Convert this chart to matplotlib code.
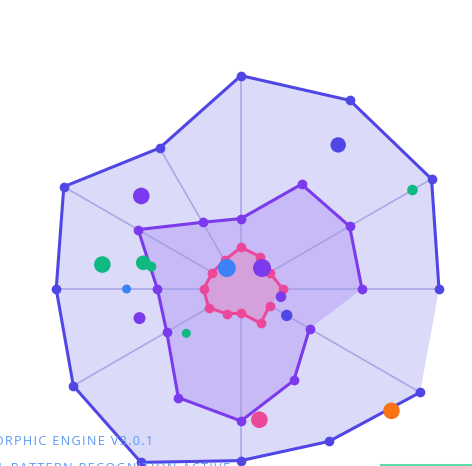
import matplotlib.pyplot as plt
import numpy as np

# radar axes, counter-clockwise from east
angles_deg = [0, 30, 60, 90, 120, 150, 180, 210, 240, 270, 300, 330]
outer_vals = [90, 100, 99, 97, 74, 93, 84, 88, 91, 78, 80, 94]
middle_vals = [55, 57, 55, 32, 35, 54, 38, 39, 57, 60, 48, 36]
inner_vals = [19, 15, 17, 19, 15, 15, 17, 17, 13, 11, 18, 15]
spoke_angles = [0, 30, 90, 120, 150, 180, 210, 270, 330]

# floating particles (angle in degrees, radius in chart units)
particle_theta = [56, 137, 30, 170, 165, 166, 180, 196, 219, 124, 45, 349, 330, 278, 321]
particle_r = [79, 62, 90, 64, 46, 42, 52, 48, 32, 11.5, 13.5, 18.5, 24, 60, 88]
particle_px = [7.7, 8.3, 5.3, 8.3, 7.3, 5, 4.5, 6, 4.5, 9, 9, 5.3, 5.7, 8.3, 8.3]
particle_kind = ['indigo', 'violet', 'green', 'green', 'green', 'green', 'blue', 'violet',
                 'green', 'blue', 'violet', 'violet', 'indigo', 'pink', 'orange']

title_lines = ['NEUROMORPHIC ENGINE V3.0.1', 'NEURAL PATTERN RECOGNITION ACTIVE']

colors = {'indigo': '#4f46e5', 'violet': '#7c3aed', 'green': '#10b981',
          'blue': '#3b82f6', 'pink': '#ec4899', 'orange': '#f97316'}

W, H = 472, 466
R_MAX = 120
PX_PER_UNIT = 2.2
cx, cy = 241, 289

fig = plt.figure(figsize=(W / 100, H / 100), dpi=100)
rad = R_MAX * PX_PER_UNIT
ax = fig.add_axes([(cx - rad) / W, (H - cy - rad) / H, 2 * rad / W, 2 * rad / H],
                  projection='polar')
ax.set_ylim(0, R_MAX)
ax.set_axis_off()

theta = np.deg2rad(angles_deg)
theta_closed = np.append(theta, theta[0])


def closed(v):
    return np.append(v, v[0])


# fills
ax.fill(theta_closed, closed(outer_vals), color=colors['indigo'], alpha=0.2, lw=0, zorder=1)
ax.fill(theta_closed, closed(middle_vals), color=colors['violet'], alpha=0.2, lw=0, zorder=2)

# spokes
for a in spoke_angles:
    i = angles_deg.index(a)
    ax.plot([np.deg2rad(a)] * 2, [0, outer_vals[i]], color='#9d9ce0', lw=1.2,
            alpha=0.8, zorder=3)

ax.fill(theta_closed, closed(inner_vals), color='#d4a1dd', lw=0, zorder=4)

# outlines (not closed) and vertex dots
for vals, c, z in [(outer_vals, colors['indigo'], 5), (middle_vals, colors['violet'], 6),
                   (inner_vals, colors['pink'], 7)]:
    ax.plot(theta, vals, color=c, lw=2.2, zorder=z, solid_joinstyle='round')
    ax.plot(theta, vals, 'o', color=c, ms=7, mew=0, zorder=z)

# particles
ax.scatter(np.deg2rad(particle_theta), particle_r,
           s=[(1.44 * p) ** 2 for p in particle_px],
           c=[colors[k] for k in particle_kind], linewidths=0, zorder=8)

# captions
font = ['Open Sans', 'DejaVu Sans']
fig.text(-69 / W, 21 / H, '\u200a'.join(title_lines[0]), family=font, fontsize=9.2,
         color='#5b9bf5', va='baseline', ha='left', zorder=0)
fig.text(-50 / W, -6 / H, '\u200a'.join(title_lines[1]), family=font, fontsize=9.2,
         color='#5b9bf5', va='baseline', ha='left', zorder=0)

fig.add_artist(plt.Line2D([381 / W, 1], [1 / H, 1 / H], color='#34d399', lw=1.5,
                          alpha=0.8, transform=fig.transFigure))

fig.savefig('out.png', dpi=100)
